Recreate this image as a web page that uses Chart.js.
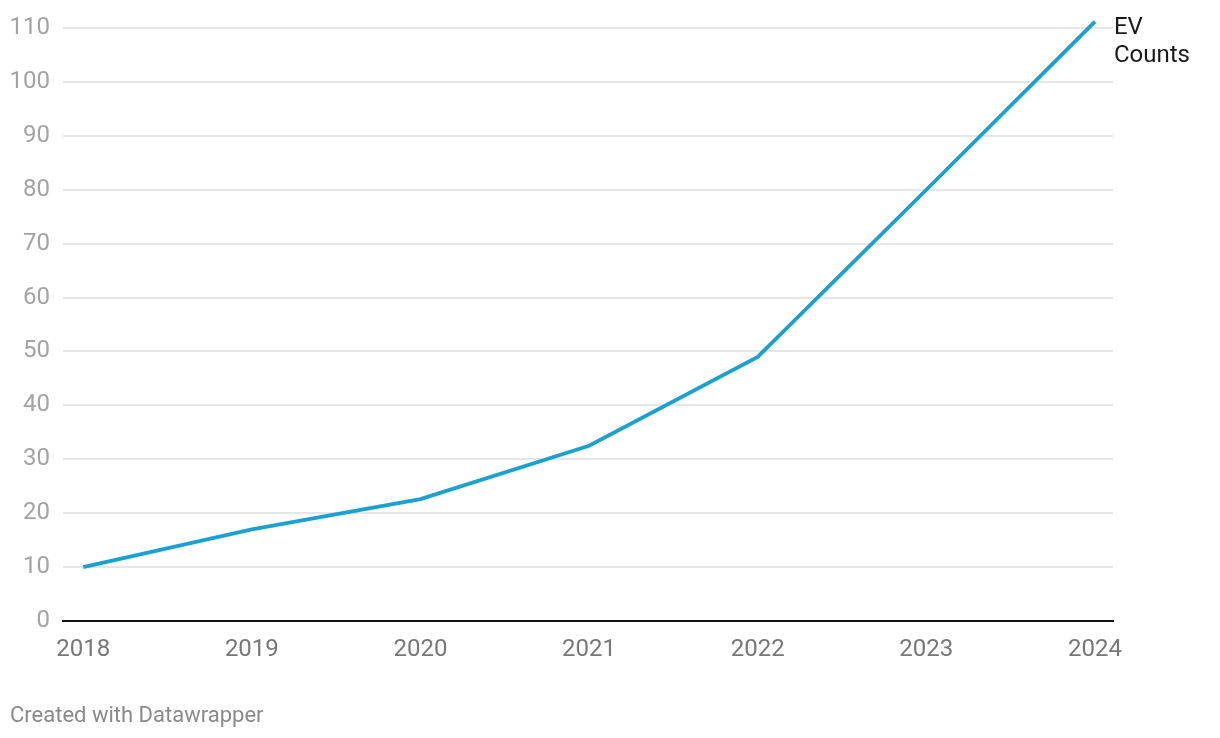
<!DOCTYPE html>
<html>
<head>
<meta charset="utf-8">
<script src="https://cdn.jsdelivr.net/npm/chart.js@4"></script>
<style>
  html, body { margin: 0; padding: 0; background: #fff; }
  #wrap { position: relative; width: 1220px; height: 738px; overflow: hidden; }
  canvas { position: absolute; left: 0; top: 0; }
  #footer { position: absolute; left: 10px; top: 702px; font-family: Roboto, sans-serif; font-size: 22px; color: #8a8a8a; white-space: nowrap; }
  #serieslabel { position: absolute; font-family: Roboto, sans-serif; font-size: 24px; line-height: 28px; color: #1a1a1a; white-space: nowrap; }
</style>
</head>
<body>
<div id="wrap">
  <canvas id="c" width="1220" height="738"></canvas>
  <div id="serieslabel">EV<br>Counts</div>
  <div id="footer">Created with Datawrapper</div>
</div>
<script>
const years = [2018, 2019, 2020, 2021, 2022, 2023, 2024];
const evCounts = [10, 17, 22.6, 32.5, 49, 80, 111.2];
const yTicks = [0, 10, 20, 30, 40, 50, 60, 70, 80, 90, 100, 110];
const seriesName = ["EV", "Counts"];

const lineColor = "#1aa1cf";

const labelPlugin = {
  id: 'seriesLabel',
  afterRender(chart) {
    const xs = chart.scales.x, ys = chart.scales.y;
    const last = years.length - 1;
    const px = xs.getPixelForValue(years[last]);
    const py = ys.getPixelForValue(evCounts[last]);
    const el = document.getElementById('serieslabel');
    el.style.left = (px + 19) + 'px';
    el.style.top = (py - 10) + 'px';
  }
};

new Chart(document.getElementById('c'), {
  type: 'line',
  data: {
    datasets: [{
      label: seriesName.join(' '),
      data: years.map((y, i) => ({ x: y, y: evCounts[i] })),
      borderColor: lineColor,
      borderWidth: 3.8,
      pointRadius: 0,
      tension: 0,
      fill: false,
      clip: false
    }]
  },
  options: {
    responsive: false,
    animation: false,
    devicePixelRatio: 1,
    layout: { padding: { top: 28, right: 107, left: 0, bottom: 0 } },
    plugins: { legend: { display: false }, tooltip: { enabled: false } },
    scales: {
      x: {
        type: 'linear',
        min: 2017.88,
        max: 2024.107,
        afterBuildTicks(axis) { axis.ticks = years.map(v => ({ value: v })); },
        afterFit(axis) { axis.height = 117; },
        grid: { display: false, drawTicks: false },
        border: { display: true, color: '#111', width: 2 },
        ticks: {
          color: '#777',
          font: { family: 'Roboto', size: 24 },
          padding: 15,
          maxRotation: 0,
          autoSkip: false,
          callback: v => String(v)
        }
      },
      y: {
        min: 0,
        max: 110,
        afterBuildTicks(axis) { axis.ticks = yTicks.map(v => ({ value: v })); },
        afterFit(axis) { axis.width = 63; },
        grid: { color: '#e6e6e6', lineWidth: 2, drawTicks: false },
        border: { display: false },
        ticks: {
          color: '#a3a3a3',
          font: { family: 'Roboto', size: 24 },
          padding: 13,
          callback: v => String(v)
        }
      }
    }
  },
  plugins: [labelPlugin]
});
</script>
</body>
</html>
